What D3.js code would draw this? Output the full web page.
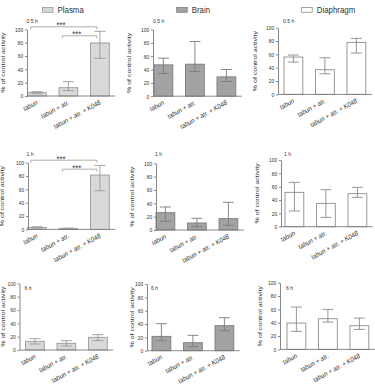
<!DOCTYPE html>
<html>
<head>
<meta charset="utf-8">
<script src="https://cdn.jsdelivr.net/npm/d3@7"></script>
<style>
body { margin: 0; background: #fff; }
svg { display: block; font-family: "Liberation Sans", Arial, sans-serif; }
</style>
</head>
<body>
<svg id="chart" width="375" height="389"></svg>
<script>
const groups = ["tabun", "tabun + atr.", "tabun + atr. + K048"];
const tissues = ["Plasma", "Brain", "Diaphragm"];
const times = ["0.5 h", "1 h", "6 h"];
const yTicks = [0, 20, 40, 60, 80, 100];
const yTitle = "% of control activity";

// % of control activity, one row per time point (0.5 h, 1 h, 6 h)
const plasmaMean = [[5, 12.5, 79.5], [3, 1.2, 81.5], [13, 10, 19]];
const plasmaLow  = [[3.5, 8, 56.5], [2, 0.5, 58], [9, 6, 14]];
const plasmaHigh = [[6.5, 21.5, 97], [4, 2, 96], [17, 14, 23]];

const brainMean = [[47, 48, 29], [26, 10.5, 17], [21.5, 12, 37.5]];
const brainLow  = [[34, 37, 22], [13, 5, 7], [15, 6, 30]];
const brainHigh = [[57, 82, 40], [34.5, 17.5, 41.5], [40.5, 23, 49.5]];

const diaMean = [[56, 37, 78], [51.5, 35, 49.5], [39.5, 46, 35.5]];
const diaLow  = [[48.5, 31, 62], [23.5, 14, 44], [27, 41, 30]];
const diaHigh = [[59, 55, 84], [66.5, 55.5, 59], [63.5, 60, 47]];

// significance brackets (plasma only, 0.5 h and 1 h)
const sigRows = [0, 1];
const sigPairs = [[0, 2], [1, 2]];
const sigText = "***";

var meanData = [plasmaMean, brainMean, diaMean];
var lowData = [plasmaLow, brainLow, diaLow];
var highData = [plasmaHigh, brainHigh, diaHigh];

var fills = ["#d9d9d9", "#a3a3a3", "#ffffff"];
var strokes = ["#9a9a9a", "#7c7c7c", "#8c8c8c"];
var axisColor = "#7a7a7a";
var textColor = "#333";
var sx = 0.85; // the original figure is a bit squeezed horizontally

// panel layout [row][col]
var axisX = [[27, 153, 278], [28, 156, 281], [19.5, 147, 280]];
var barX = [[27.5, 154, 284], [27.5, 156, 285], [25.5, 152, 287]];
var plotTop = [[29.3, 29.5, 27.7], [162.7, 163.3, 160], [283.3, 284, 282.7]];
var labelX = [[3, 128.5, 255], [2, 132, 257], [3, 132, 260]];
var timeY = [22.5, 155.5, 290.3];
var plotH = 66.7;
var bandW = 81.8;

const svg = d3.select("#chart");

function drawPanel(r, c) {
    var means = meanData[c][r];
    var lows = lowData[c][r];
    var highs = highData[c][r];
    var top = plotTop[r][c];
    var bot = top + plotH;

    var y = d3.scaleLinear().domain([0, 100]).range([bot, top]);
    var x = d3.scaleBand()
        .domain(groups)
        .range([barX[r][c], barX[r][c] + bandW])
        .paddingInner(0.403)
        .paddingOuter(0);

    var g = svg.append("g");

    // bars
    g.selectAll("rect.bar")
        .data(groups)
        .enter()
        .append("rect")
            .attr("class", "bar")
            .attr("x", d => x(d))
            .attr("y", (d, i) => y(means[i]))
            .attr("width", x.bandwidth())
            .attr("height", (d, i) => bot - y(means[i]))
            .attr("fill", fills[c])
            .attr("stroke", strokes[c])
            .attr("stroke-width", 0.9);

    // error bars
    var cap = 5.5;
    var eb = g.selectAll("g.err")
        .data(groups)
        .enter()
        .append("g")
            .attr("class", "err")
            .attr("stroke", strokes[c])
            .attr("stroke-width", 0.9);
    eb.append("line")
        .attr("x1", d => x(d) + x.bandwidth() / 2)
        .attr("x2", d => x(d) + x.bandwidth() / 2)
        .attr("y1", (d, i) => y(lows[i]))
        .attr("y2", (d, i) => y(highs[i]));
    eb.append("line")
        .attr("x1", d => x(d) + x.bandwidth() / 2 - cap)
        .attr("x2", d => x(d) + x.bandwidth() / 2 + cap)
        .attr("y1", (d, i) => y(highs[i]))
        .attr("y2", (d, i) => y(highs[i]));
    eb.append("line")
        .attr("x1", d => x(d) + x.bandwidth() / 2 - cap)
        .attr("x2", d => x(d) + x.bandwidth() / 2 + cap)
        .attr("y1", (d, i) => y(lows[i]))
        .attr("y2", (d, i) => y(lows[i]));

    // y axis
    var yAxis = g.append("g")
        .attr("transform", `translate(${axisX[r][c]},0)`)
        .call(d3.axisLeft(y).tickValues(yTicks).tickSize(2).tickSizeOuter(0).tickPadding(2.5));
    yAxis.attr("font-family", null).attr("font-size", null);
    yAxis.select(".domain").attr("stroke", axisColor).attr("stroke-width", 0.9);
    yAxis.selectAll(".tick line").attr("stroke", axisColor).attr("stroke-width", 0.9);
    yAxis.selectAll(".tick text")
        .attr("font-size", 5.8)
        .attr("fill", textColor)
        .attr("transform", `scale(${sx},1)`);

    // x axis line
    g.append("line")
        .attr("x1", axisX[r][c])
        .attr("x2", barX[r][c] + bandW + 6)
        .attr("y1", bot)
        .attr("y2", bot)
        .attr("stroke", axisColor)
        .attr("stroke-width", 0.9);

    // slanted category labels
    g.selectAll("text.cat")
        .data(groups)
        .enter()
        .append("text")
            .attr("class", "cat")
            .attr("transform", d => `translate(${x(d) + x.bandwidth() / 2 + 1},${bot + 8}) scale(${sx},1) rotate(-25)`)
            .attr("text-anchor", "end")
            .attr("font-size", 7)
            .attr("fill", textColor)
            .text(d => d);

    // y title
    g.append("text")
        .attr("transform", `translate(${labelX[r][c] + 2},${(top + bot) / 2}) scale(${sx},1) rotate(-90)`)
        .attr("text-anchor", "middle")
        .attr("font-size", 7)
        .attr("fill", textColor)
        .text(yTitle);

    // time label
    g.append("text")
        .attr("transform", `translate(${barX[r][c] - 1},${timeY[r]}) scale(${sx},1)`)
        .attr("font-size", 6)
        .attr("fill", textColor)
        .text(times[r]);

    // brackets
    if (c == 0 && sigRows.includes(r)) {
        sigPairs.forEach((p, k) => {
            var x1 = x(groups[p[0]]) + x.bandwidth() / 2 - 6;
            var x2 = x(groups[p[1]]) + x.bandwidth() / 2 - 3;
            var by = k == 0 ? top - 2.5 : top + 6.5;
            g.append("path")
                .attr("d", `M${x1},${by + 2.5}V${by}H${x2}V${by + 2.5}`)
                .attr("fill", "none")
                .attr("stroke", "#999")
                .attr("stroke-width", 0.8);
            g.append("text")
                .attr("transform", `translate(${(x1 + x2) / 2 - 3},${by + 1.5}) scale(${sx},1)`)
                .attr("text-anchor", "middle")
                .attr("font-size", 9)
                .attr("fill", textColor)
                .text(sigText);
        });
    }
}

for (var r = 0; r < times.length; r++) {
    for (var c = 0; c < tissues.length; c++) {
        drawPanel(r, c);
    }
}

// legend
var legX = [42.5, 176.7, 301.7];
var leg = svg.selectAll("g.leg")
    .data(tissues)
    .enter()
    .append("g")
        .attr("class", "leg")
        .attr("transform", (d, i) => `translate(${legX[i]},7.5)`);
leg.append("rect")
    .attr("width", 10.5)
    .attr("height", 4.8)
    .attr("fill", (d, i) => fills[i])
    .attr("stroke", (d, i) => strokes[i])
    .attr("stroke-width", 0.8);
leg.append("text")
    .attr("transform", `translate(15,5.6) scale(${sx},1)`)
    .attr("font-size", 9.3)
    .attr("fill", textColor)
    .text(d => d);
</script>
</body>
</html>
